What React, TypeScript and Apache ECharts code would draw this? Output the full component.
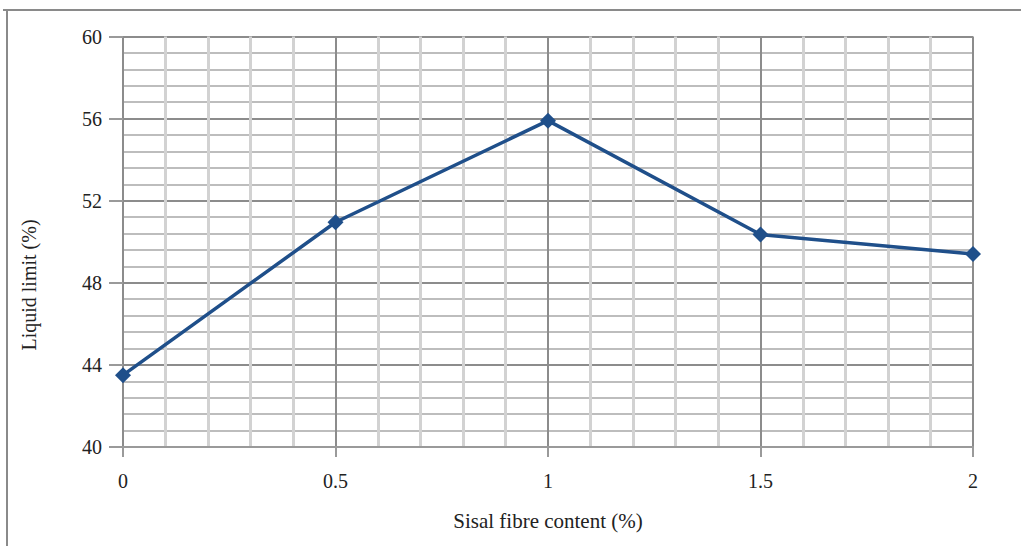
import React, { useEffect, useRef } from "react";
import * as echarts from "echarts";

const fibreContent = [0, 0.5, 1, 1.5, 2];
const liquidLimit = [43.5, 50.95, 55.9, 50.35, 49.4];
const xAxisTitle = "Sisal fibre content (%)";
const yAxisTitle = "Liquid limit (%)";

export default function App() {
  const ref = useRef<HTMLDivElement>(null);
  useEffect(() => {
    if (!ref.current) return;
    const chart = echarts.init(ref.current, null, { renderer: "svg" });
    const font = "'Liberation Serif', 'Times New Roman', serif";
    chart.setOption({
      animation: false,
      backgroundColor: "#ffffff",
      grid: { left: 123, right: 48, top: 36.5, bottom: 99 },
      xAxis: {
        type: "value",
        min: 0,
        max: 2,
        interval: 0.5,
        name: xAxisTitle,
        nameLocation: "middle",
        nameGap: 63,
        nameTextStyle: { fontFamily: font, fontSize: 21, color: "#222" },
        axisLine: { show: true, lineStyle: { color: "#9a9a9a", width: 2 } },
        axisTick: { show: true, length: 10, lineStyle: { color: "#9a9a9a", width: 2 } },
        axisLabel: { fontFamily: font, fontSize: 20, color: "#222", margin: 24 },
        splitLine: { show: true, lineStyle: { color: "#8c8c8c", width: 2 } },
        minorTick: { show: false, splitNumber: 5 },
        minorSplitLine: { show: true, lineStyle: { color: "#d2d2d2", width: 3 } },
      },
      yAxis: {
        type: "value",
        min: 40,
        max: 60,
        interval: 4,
        axisLine: { show: false },
        axisTick: { show: true, length: 14, lineStyle: { color: "#9a9a9a", width: 2 } },
        axisLabel: { fontFamily: font, fontSize: 20, color: "#222", margin: 21 },
        splitLine: { show: true, lineStyle: { color: "#8c8c8c", width: 2 } },
        minorTick: { show: false, splitNumber: 5 },
        minorSplitLine: { show: true, lineStyle: { color: "#bdbdbd", width: 2 } },
      },
      graphic: [
        { type: "line", shape: { x1: 3, y1: 10, x2: 1021, y2: 10 }, style: { stroke: "#8a8a8a", lineWidth: 2 } },
        { type: "line", shape: { x1: 7, y1: 10, x2: 7, y2: 546 }, style: { stroke: "#8a8a8a", lineWidth: 2 } },
        {
          type: "text",
          x: 29,
          y: 285,
          rotation: Math.PI / 2,
          style: {
            text: yAxisTitle,
            font: `20px ${font}`,
            fill: "#222",
            textAlign: "center",
            textVerticalAlign: "middle",
          },
        },
      ],
      series: [
        {
          type: "line",
          data: fibreContent.map((x, i) => [x, liquidLimit[i]]),
          symbol: "diamond",
          symbolSize: 16,
          lineStyle: { color: "#1f4f8a", width: 3.5 },
          itemStyle: { color: "#1f4f8a" },
        },
      ],
    });
    return () => chart.dispose();
  }, []);
  return <div ref={ref} style={{ position: "fixed", left: 0, top: 0, width: 1021, height: 546 }} />;
}
